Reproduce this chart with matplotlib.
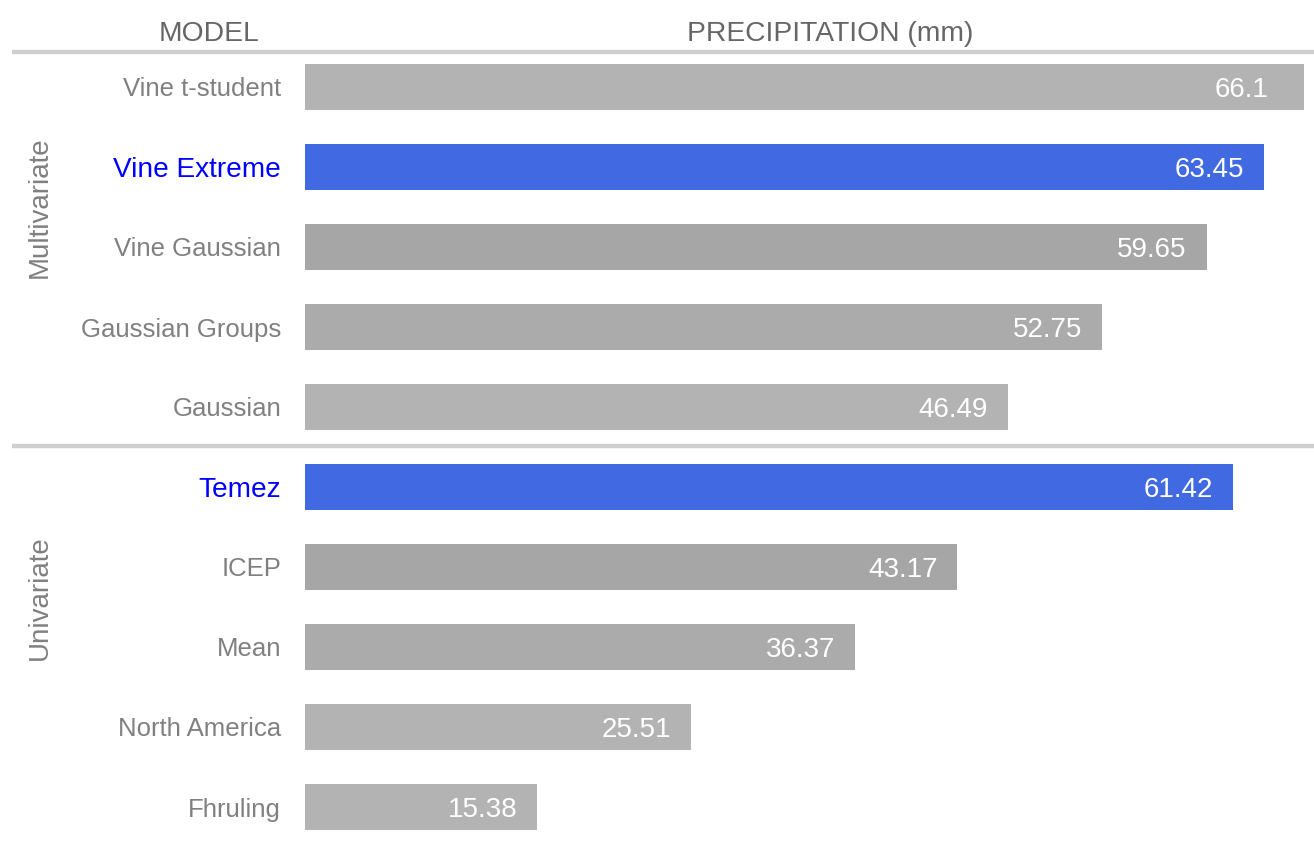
"""
Design precipitation by model, grouped into multivariate and univariate
approaches, drawn as a horizontal bar table.
"""

import matplotlib

matplotlib.use("Agg")
import matplotlib.pyplot as plt
from matplotlib.transforms import blended_transform_factory

plt.rcParams["font.family"] = ["Liberation Sans", "DejaVu Sans"]

MODELS = [
    "Vine t-student", "Vine Extreme", "Vine Gaussian", "Gaussian Groups", "Gaussian",
    "Temez", "ICEP", "Mean", "North America", "Fhruling",
]
PRECIP_MM = [66.1, 63.45, 59.65, 52.75, 46.49, 61.42, 43.17, 36.37, 25.51, 15.38]
VALUE_LABELS = ["66.1", "63.45", "59.65", "52.75", "46.49",
                "61.42", "43.17", "36.37", "25.51", "15.38"]
HIGHLIGHT = ["Vine Extreme", "Temez"]
GROUPS = ["Multivariate", "Univariate"]
BAR_COLORS = ["#b3b3b3", "#4169e1", "#a6a6a6", "#ababab", "#b3b3b3",
              "#4169e1", "#a6a6a6", "#ababab", "#b3b3b3", "#b3b3b3"]

W, H, DPI = 1314, 842, 100
ROW_PX = 80.0
FIRST_ROW_PX = 87.0


def px_to_row(p: float) -> float:
    return (p - FIRST_ROW_PX) / ROW_PX


fig = plt.figure(figsize=(W / DPI, H / DPI), dpi=DPI)
ax = fig.add_axes([305 / W, 0, 999 / W, 1])
ax.set_xlim(0, max(PRECIP_MM))
ax.set_ylim(px_to_row(H), px_to_row(0))
ax.axis("off")

rows = list(range(len(MODELS)))
ax.barh(rows, PRECIP_MM, height=0.57, color=BAR_COLORS)

for r, (v, lab) in enumerate(zip(PRECIP_MM, VALUE_LABELS)):
    ax.text(v - 5.9, r, lab, ha="left", va="center_baseline", color="white",
            fontsize=20)

# model names to the left of the bars
for r, name in enumerate(MODELS):
    hl = name in HIGHLIGHT
    ax.annotate(
        name, xy=(0, r), xytext=(-24, 0), textcoords="offset pixels",
        ha="right", va="center_baseline",
        color="blue" if hl else "#808080",
        fontsize=20.2 if hl else 18.5,
    )

fig_x = blended_transform_factory(fig.transFigure, ax.transData)

# header and separators
head_y = px_to_row(31)
ax.text(209 / W, head_y, "MODEL", transform=fig_x, ha="center",
        va="center_baseline", color="#666666", fontsize=20.3)
ax.text(830 / W, head_y, "PRECIPITATION (mm)", transform=fig_x, ha="center",
        va="center_baseline", color="#666666", fontsize=20.3)
for sep_px in (52, 446):
    yy = px_to_row(sep_px)
    ax.plot([12 / W, 1.0], [yy, yy], transform=fig_x, color="#cfcfcf",
            lw=3.2, clip_on=False, solid_capstyle="butt")

# group labels
for name, cy in zip(GROUPS, (207, 598)):
    ax.text(40 / W, px_to_row(cy), name, transform=fig_x, rotation=90,
            ha="center", va="center", color="#808080", fontsize=20)

fig.savefig("out.png", dpi=DPI, facecolor="white")
